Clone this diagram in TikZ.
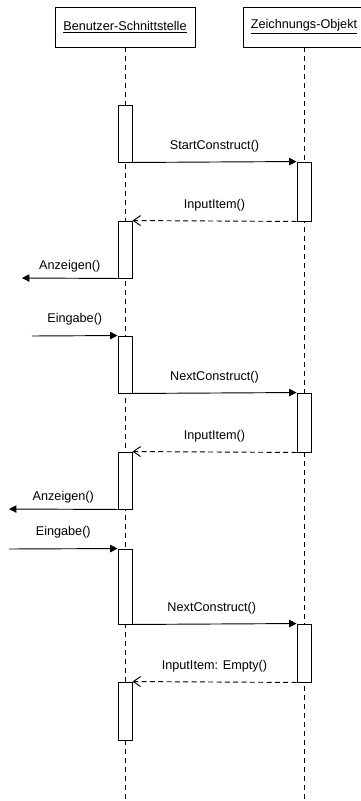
\documentclass[tikz,border=0pt]{standalone}
\usepackage{fontspec}
\setmainfont{Liberation Sans}
\usepackage{tikz}
\usetikzlibrary{arrows.meta,fit}

\begin{document}
\begin{tikzpicture}[
    x=0.75pt, y=-0.75pt,
    font=\fontsize{9.5}{11}\selectfont,
    obj/.style={draw, fill=white, inner sep=0, minimum height=30pt, line width=0.7pt},
    act/.style={draw, fill=white, inner sep=0, line width=0.7pt},
    life/.style={line width=0.7pt, dash pattern=on 3.75pt off 3pt},
    call/.style={-{Triangle[length=5.5pt,width=5.5pt]}, line width=0.7pt},
    ret/.style={-{Straight Barb[length=5.5pt,width=7.5pt]}, line width=0.7pt, dash pattern=on 3.75pt off 2.5pt},
    lbl/.style={midway, above=4pt}
  ]
    \useasboundingbox (0,0) rectangle (361,801);
    \node[obj, minimum width=105pt] (ui) at (125,27) {\underline{Benutzer-Schnittstelle}};
    \node[obj, minimum width=91.5pt] (zo) at (304,27) {\underline{Zeichnungs-Objekt}};
    \coordinate (uiend) at (125,801);
    \coordinate (zoend) at (304,801);
    \draw[life] (ui.south) -- (uiend);
    \draw[life] (zo.south) -- (zoend);
    \node[act, fit={(118,105) (132,162)}] (a1) {};
    \node[act, fit={(297,162) (311,221)}] (b1) {};
    \node[act, fit={(118,221) (132,278)}] (a2) {};
    \node[act, fit={(118,336) (132,393)}] (a3) {};
    \node[act, fit={(297,393) (311,452)}] (b2) {};
    \node[act, fit={(118,452) (132,509)}] (a4) {};
    \node[act, fit={(118,549) (132,624)}] (a5) {};
    \node[act, fit={(297,624) (311,682)}] (b3) {};
    \node[act, fit={(118,682) (132,740)}] (a6) {};
    \coordinate (out1) at (22,278);
    \coordinate (in1) at (32,336);
    \coordinate (out2) at (9,509);
    \coordinate (in2) at (9,549);
    \draw[call] (a1.south east) -- node[lbl] {StartConstruct()} (b1.north west);
    \draw[ret] (b1.south west) -- node[lbl] {InputItem()} (a2.north east);
    \draw[call] (a2.south west) -- node[midway, above=1pt] {Anzeigen()} (out1);
    \draw[call] (in1) -- node[lbl] {Eingabe()} (a3.north west);
    \draw[call] (a3.south east) -- node[lbl] {NextConstruct()} (b2.north west);
    \draw[ret] (b2.south west) -- node[lbl] {InputItem()} (a4.north east);
    \draw[call] (a4.south west) -- node[midway, above=1pt] {Anzeigen()} (out2);
    \draw[call] (in2) -- node[lbl] {Eingabe()} (a5.north west);
    \draw[call] (a5.south east) -- node[lbl, xshift=-2pt] {NextConstruct()} (b3.north west);
    \draw[ret] (b3.south west) -- node[lbl] {InputItem: Empty()} (a6.north east);
  \end{tikzpicture}
\end{document}
